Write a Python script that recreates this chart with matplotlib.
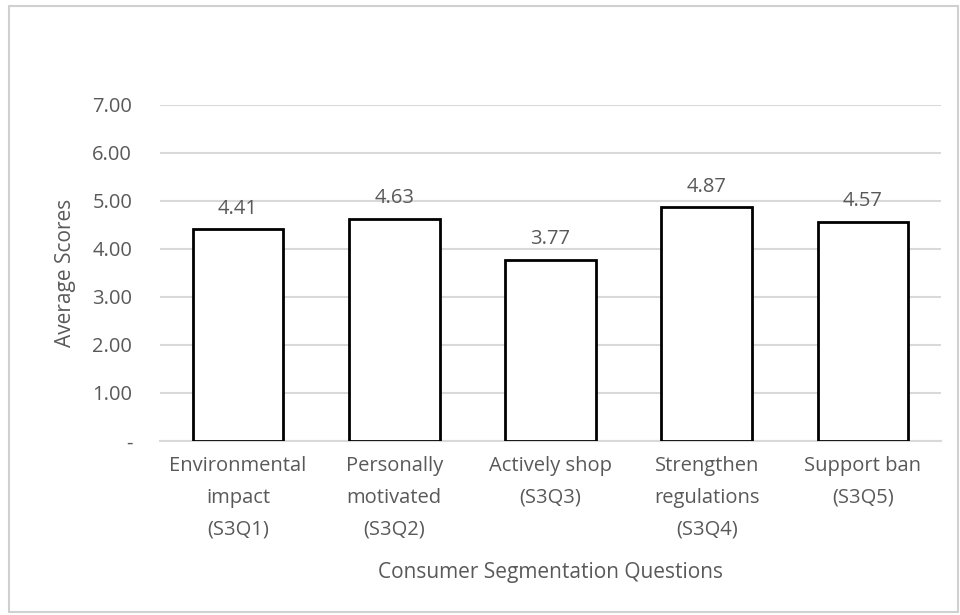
import matplotlib.pyplot as plt
from matplotlib.patches import Rectangle

# average score per segmentation question
questions = ['Environmental\nimpact\n(S3Q1)', 'Personally\nmotivated\n(S3Q2)',
             'Actively shop\n(S3Q3)', 'Strengthen\nregulations\n(S3Q4)',
             'Support ban\n(S3Q5)']
scores = [4.41, 4.63, 3.77, 4.87, 4.57]
yticks = [0, 1, 2, 3, 4, 5, 6, 7]
ytick_labels = ['-', '1.00', '2.00', '3.00', '4.00', '5.00', '6.00', '7.00']

grey = '#595959'
plt.rcParams['font.family'] = ['Open Sans', 'DejaVu Sans']

fig = plt.figure(figsize=(9.6, 6.15), dpi=100)
ax = fig.add_axes([160/960, 1 - 441/615, (941 - 160)/960, (441 - 105)/615])

# light border round the whole chart
fig.patches.append(Rectangle((9/960, 3/615), 949/960, 606/615, transform=fig.transFigure,
                             fill=False, edgecolor='#d0d0d0', linewidth=1.5))

x = range(len(scores))
bars = ax.bar(x, scores, width=0.58, color='white', edgecolor='black', linewidth=2, zorder=3)
for xi, s in zip(x, scores):
    ax.text(xi, s + 0.22, '%.2f' % s, ha='center', va='bottom', fontsize=14.5, color=grey)

ax.set_xlim(-0.5, 4.5)
ax.set_ylim(0, 7)
ax.set_yticks(yticks)
ax.set_yticklabels(ytick_labels)
ax.set_xticks(list(x))
ax.set_xticklabels(questions, linespacing=1.78)
ax.tick_params(length=0, colors=grey, labelsize=14.5)
ax.tick_params(axis='y', pad=20)
ax.tick_params(axis='x', pad=11)
ax.grid(axis='y', color='#d9d9d9', linewidth=1.5, zorder=0)
for sp in ['top', 'right', 'left']:
    ax.spines[sp].set_visible(False)
ax.spines['bottom'].set_color('#d9d9d9')
ax.spines['bottom'].set_linewidth(1.5)

ax.set_ylabel('Average Scores', fontsize=15, color=grey, labelpad=12)
ax.set_xlabel('Consumer Segmentation Questions', fontsize=15, color=grey, labelpad=16)

fig.savefig('out.png', dpi=100, facecolor='white')
